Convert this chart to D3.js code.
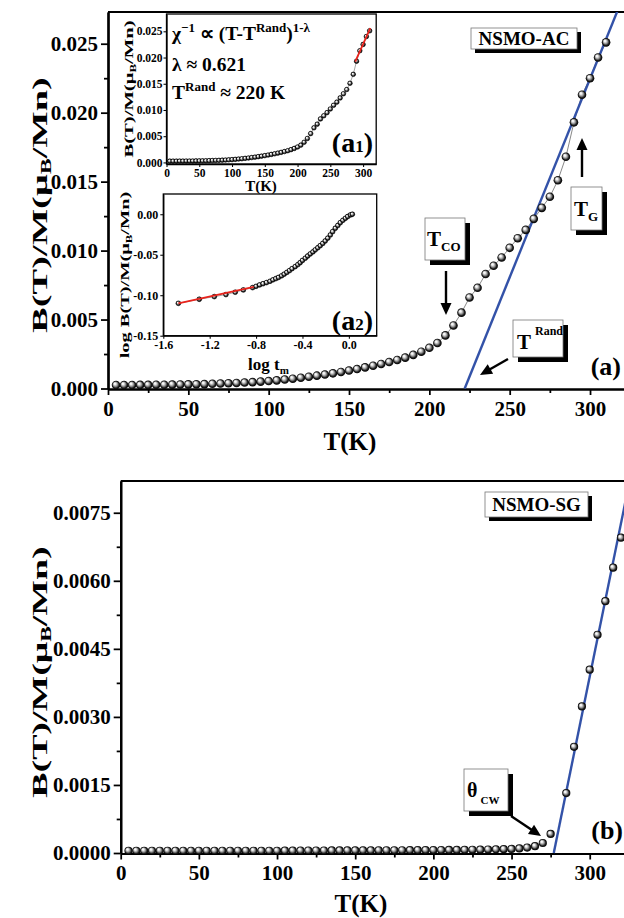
<!DOCTYPE html>
<html><head><meta charset="utf-8">
<script src="https://cdn.jsdelivr.net/npm/d3@7"></script>
<style>
body{margin:0;background:#fff;}
svg text{font-family:"Liberation Serif","Times New Roman",serif;font-weight:bold;fill:#000;}
</style></head><body>
<svg id="c" width="624" height="918"></svg>
<script>
// ---------------- DATA ----------------
// Panel (a): NSMO-AC
const tempA = [5,10,15,20,25,30,35,40,45,50,55,60,65,70,75,80,85,90,95,100,
  105,110,115,120,125,130,135,140,145,150,155,160,165,170,175,180,185,190,195,200,
  205,210,215,220,225,230,235,240,245,250,255,260,265,270,275,280,285,290,295,300,305,310];
const valA = [0.00025,0.00025,0.00025,0.00026,0.00026,0.00027,0.00027,0.00028,0.00029,0.00030,
  0.00031,0.00032,0.00034,0.00036,0.00038,0.00040,0.00043,0.00046,0.00050,0.00054,
  0.00059,0.00065,0.00071,0.00078,0.00085,0.00093,0.00101,0.00110,0.00120,0.00130,
  0.00141,0.00153,0.00165,0.00178,0.00192,0.00207,0.00224,0.00244,0.00267,0.00295,
  0.00330,0.00385,0.00457,0.00550,0.00660,0.00730,0.00830,0.00890,0.00950,0.01020,
  0.01090,0.01150,0.01230,0.01310,0.01390,0.01510,0.01680,0.01930,0.02130,0.02250,0.02400,0.02510];
const fitAT = [222, 320];
const fitAV = [0, 0.02822];
const fitA1T = [288, 311];
const fitA1V = [0.0192, 0.0256];

// Inset (a2)
const logTm = [-1.47,-1.29,-1.16,-1.06,-0.98,-0.91,-0.83,-0.80,-0.77,-0.74,-0.71,-0.68,-0.655,-0.63,-0.607,
  -0.58,-0.558,-0.535,-0.512,-0.49,-0.463,-0.44,-0.42,-0.40,-0.376,-0.355,-0.333,-0.31,-0.29,-0.268,
  -0.247,-0.225,-0.204,-0.182,-0.16,-0.14,-0.117,-0.095,-0.074,-0.052,-0.03,-0.01,0.013,0.03];
const logB = [-0.1100,-0.1050,-0.1017,-0.0992,-0.0963,-0.0935,-0.0906,-0.0890,-0.0873,-0.0858,-0.0844,-0.0828,-0.0810,-0.0795,-0.0780,
  -0.0760,-0.0740,-0.0718,-0.0696,-0.0672,-0.0647,-0.0622,-0.0598,-0.0570,-0.0543,-0.0516,-0.0490,-0.0465,-0.0440,-0.0414,
  -0.0388,-0.0360,-0.0330,-0.0295,-0.0256,-0.0215,-0.0173,-0.0138,-0.0104,-0.0075,-0.0050,-0.0028,-0.0009,0.0000];
const fitA2X = [-1.47, -0.82];
const fitA2Y = [-0.1100, -0.0897];

// Panel (b): NSMO-SG
const tempB = [5,10,15,20,25,30,35,40,45,50,55,60,65,70,75,80,85,90,95,100,
  105,110,115,120,125,130,135,140,145,150,155,160,165,170,175,180,185,190,195,200,
  205,210,215,220,225,230,235,240,245,250,255,260,265,270,275,
  285,290,295,300,305,310,315,320];
const valB = [0.00005,0.00005,0.00005,0.00005,0.00005,0.00005,0.00005,0.00005,0.00005,0.00005,
  0.00005,0.00005,0.00005,0.00005,0.00005,0.00005,0.00005,0.00005,0.00005,0.00005,
  0.000052,0.000052,0.000054,0.000054,0.000055,0.000055,0.000056,0.000056,0.000057,0.000057,
  0.000058,0.000058,0.000059,0.000060,0.000060,0.000061,0.000062,0.000063,0.000064,0.000065,
  0.000066,0.000067,0.000068,0.000070,0.000072,0.000074,0.000077,0.000080,0.000085,0.000090,
  0.00010,0.00012,0.00015,0.00022,0.00042,
  0.00132,0.00234,0.00323,0.00404,0.00481,0.00555,0.00629,0.00695];
const fitBT = [277, 325];
const fitBV = [0, 0.00811];

// Tick labels
const xTicksMain = [0,50,100,150,200,250,300];
const xMinorMain = [25,75,125,175,225,275,325];
const yTicksA = [0,0.005,0.010,0.015,0.020,0.025];
const yMinorA = [0.0025,0.0075,0.0125,0.0175,0.0225];
const yTicksB = [0,0.0015,0.0030,0.0045,0.0060,0.0075];
const yMinorB = [0.00075,0.00225,0.00375,0.00525,0.00675];
const xTicksA1 = [0,50,100,150,200,250,300];
const yTicksA1 = [0,0.005,0.010,0.015,0.020,0.025];
const xTicksA2 = [-1.6,-1.2,-0.8,-0.4,0.0];
const yTicksA2 = [0,-0.05,-0.10,-0.15];

// ---------------- DRAW ----------------
const svg = d3.select('#c');
const defs = svg.append('defs');
const grad = defs.append('radialGradient').attr('id','ball')
  .attr('cx','0.5').attr('cy','0.5').attr('r','0.5').attr('fx','0.33').attr('fy','0.3');
[[0,'#ffffff'],[0.22,'#f0f0f0'],[0.5,'#9a9a9a'],[0.78,'#1e1e1e'],[1,'#000000']]
  .forEach(([o,c])=>grad.append('stop').attr('offset',o).attr('stop-color',c));

const BLUE = '#3352a8';

function styleAxis(g, fs, sw){
  g.attr('font-family',null).attr('font-size',fs);
  g.selectAll('path.domain').attr('stroke','#000').attr('stroke-width',sw);
  g.selectAll('.tick line').attr('stroke','#000').attr('stroke-width',sw*0.8);
}

function mainPanel(opt){
  const g = svg.append('g');
  const x = opt.x, y = opt.y;
  const clipId = opt.id+'clip';
  defs.append('clipPath').attr('id',clipId).append('rect')
    .attr('x',x.range()[0]).attr('y',y.range()[1]).attr('width',624-x.range()[0]).attr('height',y.range()[0]-y.range()[1]+1);
  g.append('line').attr('x1',x.range()[0]).attr('x2',630).attr('y1',y.range()[1]).attr('y2',y.range()[1])
    .attr('stroke','#000').attr('stroke-width',2.2);
  const gx = g.append('g').attr('transform',`translate(0,${y.range()[0]+0.5})`)
    .call(d3.axisBottom(x).tickValues(xTicksMain).tickSize(6).tickPadding(6).tickSizeOuter(0).tickFormat(d3.format('d')));
  styleAxis(gx, 21, 2.2);
  const gxm = g.append('g').attr('transform',`translate(0,${y.range()[0]+0.5})`)
    .call(d3.axisBottom(x).tickValues(xMinorMain).tickSize(4).tickSizeOuter(0).tickFormat(''));
  styleAxis(gxm, 21, 2.2);
  const gy = g.append('g').attr('transform',`translate(${x.range()[0]},0)`)
    .call(d3.axisLeft(y).tickValues(opt.yTicks).tickSize(7).tickPadding(3).tickSizeOuter(0).tickFormat(d3.format(opt.fmt)));
  styleAxis(gy, 21, 2.2);
  const gym = g.append('g').attr('transform',`translate(${x.range()[0]},0)`)
    .call(d3.axisLeft(y).tickValues(opt.yMinor).tickSize(4).tickSizeOuter(0).tickFormat(''));
  styleAxis(gym, 21, 2.2);

  const plot = g.append('g').attr('clip-path',`url(#${clipId})`);
  const pts = opt.t.map((t,i)=>({t, v:opt.v[i]}));
  if (opt.connect){
    plot.append('path').datum(pts)
      .attr('d', d3.line().x(d=>x(d.t)).y(d=>y(d.v)))
      .attr('fill','none').attr('stroke','#555').attr('stroke-width',0.7);
  }
  const fit = opt.fitT.map((t,i)=>({t, v:opt.fitV[i]}));
  plot.append('path').datum(fit)
    .attr('d', d3.line().x(d=>x(d.t)).y(d=>y(d.v)))
    .attr('fill','none').attr('stroke',BLUE).attr('stroke-width',2.4);
  plot.selectAll('circle.b').data(pts).enter().append('circle')
    .attr('cx',d=>x(d.t)).attr('cy',d=>y(d.v)).attr('r',opt.r)
    .attr('fill','url(#ball)');
  return g;
}

// Panel (a)
const xA = d3.scaleLinear().domain([0,325]).range([108,630.2]);
const yA = d3.scaleLinear().domain([0,0.0273]).range([388.5,12]);
mainPanel({id:'a', x:xA, y:yA, t:tempA, v:valA, fitT:fitAT, fitV:fitAV, yTicks:yTicksA, yMinor:yMinorA, fmt:'.3f', r:4.3, connect:true});

// Panel (b)
const xB = d3.scaleLinear().domain([0,325]).range([120.7,628.8]);
const yB = d3.scaleLinear().domain([0,0.0082]).range([853,481]);
mainPanel({id:'b', x:xB, y:yB, t:tempB, v:valB, fitT:fitBT, fitV:fitBV, yTicks:yTicksB, yMinor:yMinorB, fmt:'.4f', r:4.1, connect:false});

// axis titles
function yTitle(cx, cy, fs, stretch){
  const t = svg.append('text').attr('text-anchor','middle').attr('font-size',fs)
    .attr('transform',`translate(${cx},${cy}) scale(1,${stretch}) rotate(-90)`);
  t.append('tspan').text('B(T)/M(μ');
  t.append('tspan').attr('font-size',fs*0.62).attr('dy',fs*0.2).text('B');
  t.append('tspan').attr('dy',-fs*0.2).text('/Mn)');
  return t;
}
yTitle(47, 205, 22, 1.75);
yTitle(47, 672, 22, 1.72);
svg.append('text').attr('x',350).attr('y',450).attr('text-anchor','middle').attr('font-size',25).text('T(K)');
svg.append('text').attr('x',361).attr('y',912).attr('text-anchor','middle').attr('font-size',25).text('T(K)');

// ---------- annotations ----------
function shadowBox(x,y,w,h,off){
  svg.append('rect').attr('x',x+off).attr('y',y+off).attr('width',w).attr('height',h).attr('fill','#000');
  svg.append('rect').attr('x',x).attr('y',y).attr('width',w).attr('height',h).attr('fill','#fff').attr('stroke','#777').attr('stroke-width',0.8);
}
function arrow(x1,y1,x2,y2){
  const dx=x2-x1, dy=y2-y1, L=Math.hypot(dx,dy), ux=dx/L, uy=dy/L;
  const hl=12, hw=5.5;
  const bx=x2-ux*hl, by=y2-uy*hl;
  svg.append('line').attr('x1',x1).attr('y1',y1).attr('x2',bx+ux*2).attr('y2',by+uy*2).attr('stroke','#000').attr('stroke-width',2.4);
  svg.append('polygon').attr('points',`${x2},${y2} ${bx-uy*hw},${by+ux*hw} ${bx+uy*hw},${by-ux*hw}`).attr('fill','#000');
}

shadowBox(471,28,106,21,4);
svg.append('text').attr('x',524).attr('y',45).attr('text-anchor','middle').attr('font-size',19).text('NSMO-AC');
shadowBox(425,218,40,42,5);
{ const t=svg.append('text').attr('x',427).attr('y',246).attr('font-size',21);
  t.append('tspan').text('T'); t.append('tspan').attr('font-size',13).attr('dy',5).text('CO'); }
arrow(446,271,446,315);
shadowBox(571,187,31,43,5);
{ const t=svg.append('text').attr('x',574).attr('y',216).attr('font-size',21);
  t.append('tspan').text('T'); t.append('tspan').attr('font-size',13).attr('dy',5).text('G'); }
arrow(582,177,582,138);
shadowBox(513,320,50,37,5);
{ const t=svg.append('text').attr('x',517).attr('y',349).attr('font-size',21);
  t.append('tspan').text('T'); t.append('tspan').attr('font-size',12).attr('dx',4).attr('dy',-14).text('Rand'); }
arrow(508,359,480,375);
svg.append('text').attr('x',621).attr('y',375).attr('text-anchor','end').attr('font-size',26).text('(a)');

shadowBox(485,492,103,25,4);
svg.append('text').attr('x',536.5).attr('y',511).attr('text-anchor','middle').attr('font-size',19).text('NSMO-SG');
shadowBox(464,769,44,42,5);
{ const t=svg.append('text').attr('x',467).attr('y',797).attr('font-size',20);
  t.append('tspan').text('θ'); t.append('tspan').attr('font-size',11).attr('dx',3).attr('dy',7).text('CW'); }
arrow(511,816,541,836);
svg.append('text').attr('x',623).attr('y',839).attr('text-anchor','end').attr('font-size',26).text('(b)');

// ---------- Inset a1 ----------
const xI1 = d3.scaleLinear().domain([0,320]).range([166.5,376.2]);
const yI1 = d3.scaleLinear().domain([-0.0003,0.0283]).range([164,14]);
{
  const g = svg.append('g');
  g.append('rect').attr('x',166.5).attr('y',14).attr('width',376.2-166.5).attr('height',150)
    .attr('fill','#fff').attr('stroke','#000').attr('stroke-width',1.3);
  const gx = g.append('g').attr('transform','translate(0,164)')
    .call(d3.axisBottom(xI1).tickValues(xTicksA1).tickSize(3).tickPadding(2).tickSizeOuter(0).tickFormat(d3.format('d')));
  styleAxis(gx, 11.5, 1.3);
  const gy = g.append('g').attr('transform','translate(166.5,0)')
    .call(d3.axisLeft(yI1).tickValues(yTicksA1).tickSize(3).tickPadding(1).tickSizeOuter(0).tickFormat(d3.format('.3f')));
  styleAxis(gy, 11.5, 1.3);
  const pts = tempA.map((t,i)=>({t,v:valA[i]}));
  g.append('path').datum(pts).attr('d',d3.line().x(d=>xI1(d.t)).y(d=>yI1(d.v)))
    .attr('fill','none').attr('stroke','#666').attr('stroke-width',0.6);
  g.selectAll('circle').data(pts).enter().append('circle')
    .attr('cx',d=>xI1(d.t)).attr('cy',d=>yI1(d.v)).attr('r',2.3)
    .attr('fill','url(#ball)').attr('stroke','#000').attr('stroke-width',0.6);
  const fit = fitA1T.map((t,i)=>({t,v:fitA1V[i]}));
  g.append('path').datum(fit).attr('d',d3.line().x(d=>xI1(d.t)).y(d=>yI1(d.v)))
    .attr('fill','none').attr('stroke','#e8231c').attr('stroke-width',1.8);
  const yt = svg.append('text').attr('text-anchor','middle').attr('font-size',12)
    .attr('transform','translate(133,89) scale(1,1.72) rotate(-90)');
  yt.append('tspan').text('B(T)/M(μ');
  yt.append('tspan').attr('font-size',7.5).attr('dy',2.5).text('B');
  yt.append('tspan').attr('dy',-2.5).text('/Mn)');
  svg.append('text').attr('x',261).attr('y',191).attr('text-anchor','middle').attr('font-size',15).text('T(K)');
  const f1 = svg.append('text').attr('x',172).attr('y',40).attr('font-size',19.5);
  f1.append('tspan').text('χ');
  f1.append('tspan').attr('font-size',13).attr('dy',-8).text('−1');
  f1.append('tspan').attr('dy',8).text(' ∝ (T-T');
  f1.append('tspan').attr('font-size',13).attr('dy',-8).text('Rand');
  f1.append('tspan').attr('dy',8).text(')');
  f1.append('tspan').attr('font-size',13).attr('dy',-8).text('1-λ');
  svg.append('text').attr('x',172).attr('y',71).attr('font-size',19.5).text('λ ≈ 0.621');
  const f3 = svg.append('text').attr('x',172).attr('y',99).attr('font-size',19.5);
  f3.append('tspan').text('T');
  f3.append('tspan').attr('font-size',13).attr('dy',-8).text('Rand');
  f3.append('tspan').attr('dy',8).text(' ≈ 220 K');
  const a1 = svg.append('text').attr('x',373).attr('y',152).attr('text-anchor','end').attr('font-size',28);
  a1.append('tspan').text('(a');
  a1.append('tspan').attr('font-size',17).text('1');
  a1.append('tspan').text(')');
}

// ---------- Inset a2 ----------
const xI2 = d3.scaleLinear().domain([-1.6,0.24]).range([163.3,376.7]);
const yI2 = d3.scaleLinear().domain([-0.15,0.025]).range([335.7,194]);
{
  const g = svg.append('g');
  g.append('rect').attr('x',163.3).attr('y',194).attr('width',376.7-163.3).attr('height',335.7-194)
    .attr('fill','#fff').attr('stroke','#000').attr('stroke-width',1.3);
  const gx = g.append('g').attr('transform','translate(0,335.7)')
    .call(d3.axisBottom(xI2).tickValues(xTicksA2).tickSize(3).tickPadding(2).tickSizeOuter(0).tickFormat(d3.format('.1f')));
  styleAxis(gx, 12, 1.3);
  const gy = g.append('g').attr('transform','translate(163.3,0)')
    .call(d3.axisLeft(yI2).tickValues(yTicksA2).tickSize(3).tickPadding(2).tickSizeOuter(0).tickFormat(d3.format('.2f')));
  styleAxis(gy, 12, 1.3);
  gx.selectAll('text').text(d=>d3.format('.1f')(d).replace('−','-'));
  gy.selectAll('text').text(d=>d3.format('.2f')(d).replace('−','-'));
  const pts = logTm.map((t,i)=>({t,v:logB[i]}));
  g.append('path').datum(pts).attr('d',d3.line().x(d=>xI2(d.t)).y(d=>yI2(d.v)))
    .attr('fill','none').attr('stroke','#666').attr('stroke-width',0.6);
  g.selectAll('circle').data(pts).enter().append('circle')
    .attr('cx',d=>xI2(d.t)).attr('cy',d=>yI2(d.v)).attr('r',2.4)
    .attr('fill','url(#ball)').attr('stroke','#000').attr('stroke-width',0.6);
  const fit = fitA2X.map((t,i)=>({t,v:fitA2Y[i]}));
  g.append('path').datum(fit).attr('d',d3.line().x(d=>xI2(d.t)).y(d=>yI2(d.v)))
    .attr('fill','none').attr('stroke','#e8231c').attr('stroke-width',1.8);
  const yt = svg.append('text').attr('text-anchor','middle').attr('font-size',12)
    .attr('transform','translate(129,275) scale(1,1.7) rotate(-90)');
  yt.append('tspan').text('log B(T)/M(μ');
  yt.append('tspan').attr('font-size',7.5).attr('dy',2.5).text('B');
  yt.append('tspan').attr('dy',-2.5).text('/Mn)');
  const xt = svg.append('text').attr('x',248).attr('y',370).attr('font-size',17);
  xt.append('tspan').text('log t');
  xt.append('tspan').attr('font-size',11).attr('dy',4).text('m');
  const a2 = svg.append('text').attr('x',373).attr('y',330).attr('text-anchor','end').attr('font-size',28);
  a2.append('tspan').text('(a');
  a2.append('tspan').attr('font-size',17).text('2');
  a2.append('tspan').text(')');
}
</script>
</body></html>
